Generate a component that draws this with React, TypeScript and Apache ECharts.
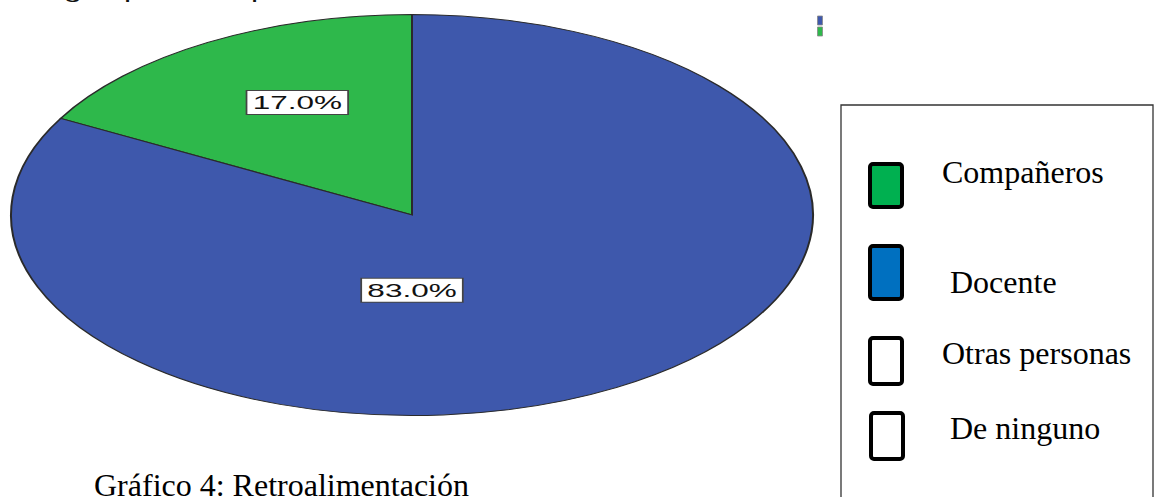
import React, { useEffect, useRef } from "react";
import * as echarts from "echarts";

const categories = ["Compañeros", "Docente"];
const values = [17, 83];
const sliceColors = ["#2EB84B", "#3E58AC"];

const legendLabels = ["Compañeros", "Docente", "Otras personas", "De ninguno"];
const legendFills = ["#00B050", "#0070C0", "#FFFFFF", "#FFFFFF"];

const captionText = "Gráfico 4: Retroalimentación";
const titleFragments = ["g", "p", "p"];

// layout / style config
const CX = 412;
const CY = 215;
const R = 200.5;
const SX = 2.0;
const labelRadiusFrac = [0.63, 0.375];
const labelAngleOverride: (number | null)[] = [27, 180];
const SERIF_BASE = 26; // top-to-baseline offset for 32px serif

const legendSwatches = [
  { x: 870, y: 164, w: 32, h: 43 },
  { x: 870, y: 246, w: 32, h: 53 },
  { x: 870, y: 338, w: 32, h: 46 },
  { x: 871, y: 413, w: 32, h: 46 },
];
const legendTextPos = [
  { x: 942, y: 182 },
  { x: 950, y: 292 },
  { x: 942, y: 363 },
  { x: 950, y: 438 },
];
const titleFragX = [64, 124, 251];

export default function App() {
  const ref = useRef<HTMLDivElement>(null);
  useEffect(() => {
    if (!ref.current) return;
    const chart = echarts.init(ref.current, undefined, { renderer: "svg" });
    const total = values.reduce((a, b) => a + b, 0);
    const top = -Math.PI / 2;
    const angles = values.map((v, i) => {
      const frac = v / total;
      if (i === 0) {
        return { start: top - 2 * Math.PI * frac, end: top };
      }
      const before = values.slice(1, i).reduce((a, b) => a + b, 0) / total;
      return {
        start: top + 2 * Math.PI * before,
        end: top + 2 * Math.PI * (before + frac),
      };
    });

    const option: any = {
      animation: false,
      backgroundColor: "#fff",
      series: [
        {
          type: "custom",
          coordinateSystem: "none",
          data: values.map((v, i) => ({ name: categories[i], value: [v, i] })),
          renderItem: (params: any, api: any) => {
            const i = params.dataIndex;
            const v = api.value(0);
            const a = angles[i];
            const pct = ((v / total) * 100).toFixed(1) + "%";
            const mid = (a.start + a.end) / 2;
            let lx: number, ly: number;
            const rr = R * labelRadiusFrac[i];
            const ov = labelAngleOverride[i];
            if (ov !== null) {
              const ang = i === 0 ? top - (ov * Math.PI) / 180 : top + (ov * Math.PI) / 180;
              lx = Math.cos(ang) * rr;
              ly = Math.sin(ang) * rr;
            } else {
              lx = Math.cos(mid) * rr;
              ly = Math.sin(mid) * rr;
            }
            return {
              type: "group",
              children: [
                {
                  type: "sector",
                  x: CX,
                  y: CY,
                  scaleX: SX,
                  scaleY: 1,
                  shape: { cx: 0, cy: 0, r0: 0, r: R, startAngle: a.start, endAngle: a.end, clockwise: true },
                  style: {
                    fill: sliceColors[i],
                    stroke: "#2a2a2a",
                    lineWidth: 1,
                    strokeNoScale: true,
                  },
                  z2: 1,
                },
                {
                  type: "text",
                  x: CX + lx * SX,
                  y: CY + ly,
                  scaleX: 1.75,
                  scaleY: 1,
                  z2: 10,
                  style: {
                    text: pct,
                    fontFamily: "Liberation Sans, Arial, sans-serif",
                    fontSize: 18,
                    fill: "#111",
                    align: "center",
                    verticalAlign: "middle",
                    backgroundColor: "#fff",
                    borderColor: "#444",
                    borderWidth: 1,
                    padding: [3, 3, 2, 3],
                  },
                },
              ],
            };
          },
        },
      ],
      graphic: [
        ...titleFragments.map((t, i) => ({
          type: "text",
          x: titleFragX[i],
          y: -19,
          scaleX: 1.6,
          style: { text: t, fontFamily: "Liberation Sans, Arial", fontSize: 20, fill: "#111" },
        })),
        { type: "rect", shape: { x: 817.5, y: 16, width: 5, height: 9 }, style: { fill: sliceColors[1], stroke: "#888", lineWidth: 0.8 } },
        { type: "rect", shape: { x: 817.5, y: 27, width: 5, height: 9 }, style: { fill: sliceColors[0], stroke: "#888", lineWidth: 0.8 } },
        { type: "rect", shape: { x: 841, y: 105, width: 312, height: 420 }, style: { fill: "#fff", stroke: "#333", lineWidth: 1.3 } },
        ...legendLabels.map((lab, i) => ({
          type: "rect",
          shape: { x: legendSwatches[i].x, y: legendSwatches[i].y, width: legendSwatches[i].w, height: legendSwatches[i].h, r: 3 },
          style: { fill: legendFills[i], stroke: "#000", lineWidth: 4 },
        })),
        ...legendLabels.map((lab, i) => ({
          type: "text",
          x: legendTextPos[i].x,
          y: legendTextPos[i].y - SERIF_BASE,
          style: {
            text: lab,
            fontFamily: "Liberation Serif, Times New Roman, serif",
            fontSize: 32,
            fill: "#000",
          },
        })),
        {
          type: "text",
          x: 94,
          y: 495 - SERIF_BASE,
          style: {
            text: captionText,
            fontFamily: "Liberation Serif, Times New Roman, serif",
            fontSize: 32,
            fill: "#000",
          },
        },
      ],
    };
    chart.setOption(option);
    return () => chart.dispose();
  }, []);
  return (
    <div
      ref={ref}
      style={{ position: "fixed", left: 0, top: 0, width: 1154, height: 497, background: "#fff" }}
    />
  );
}
